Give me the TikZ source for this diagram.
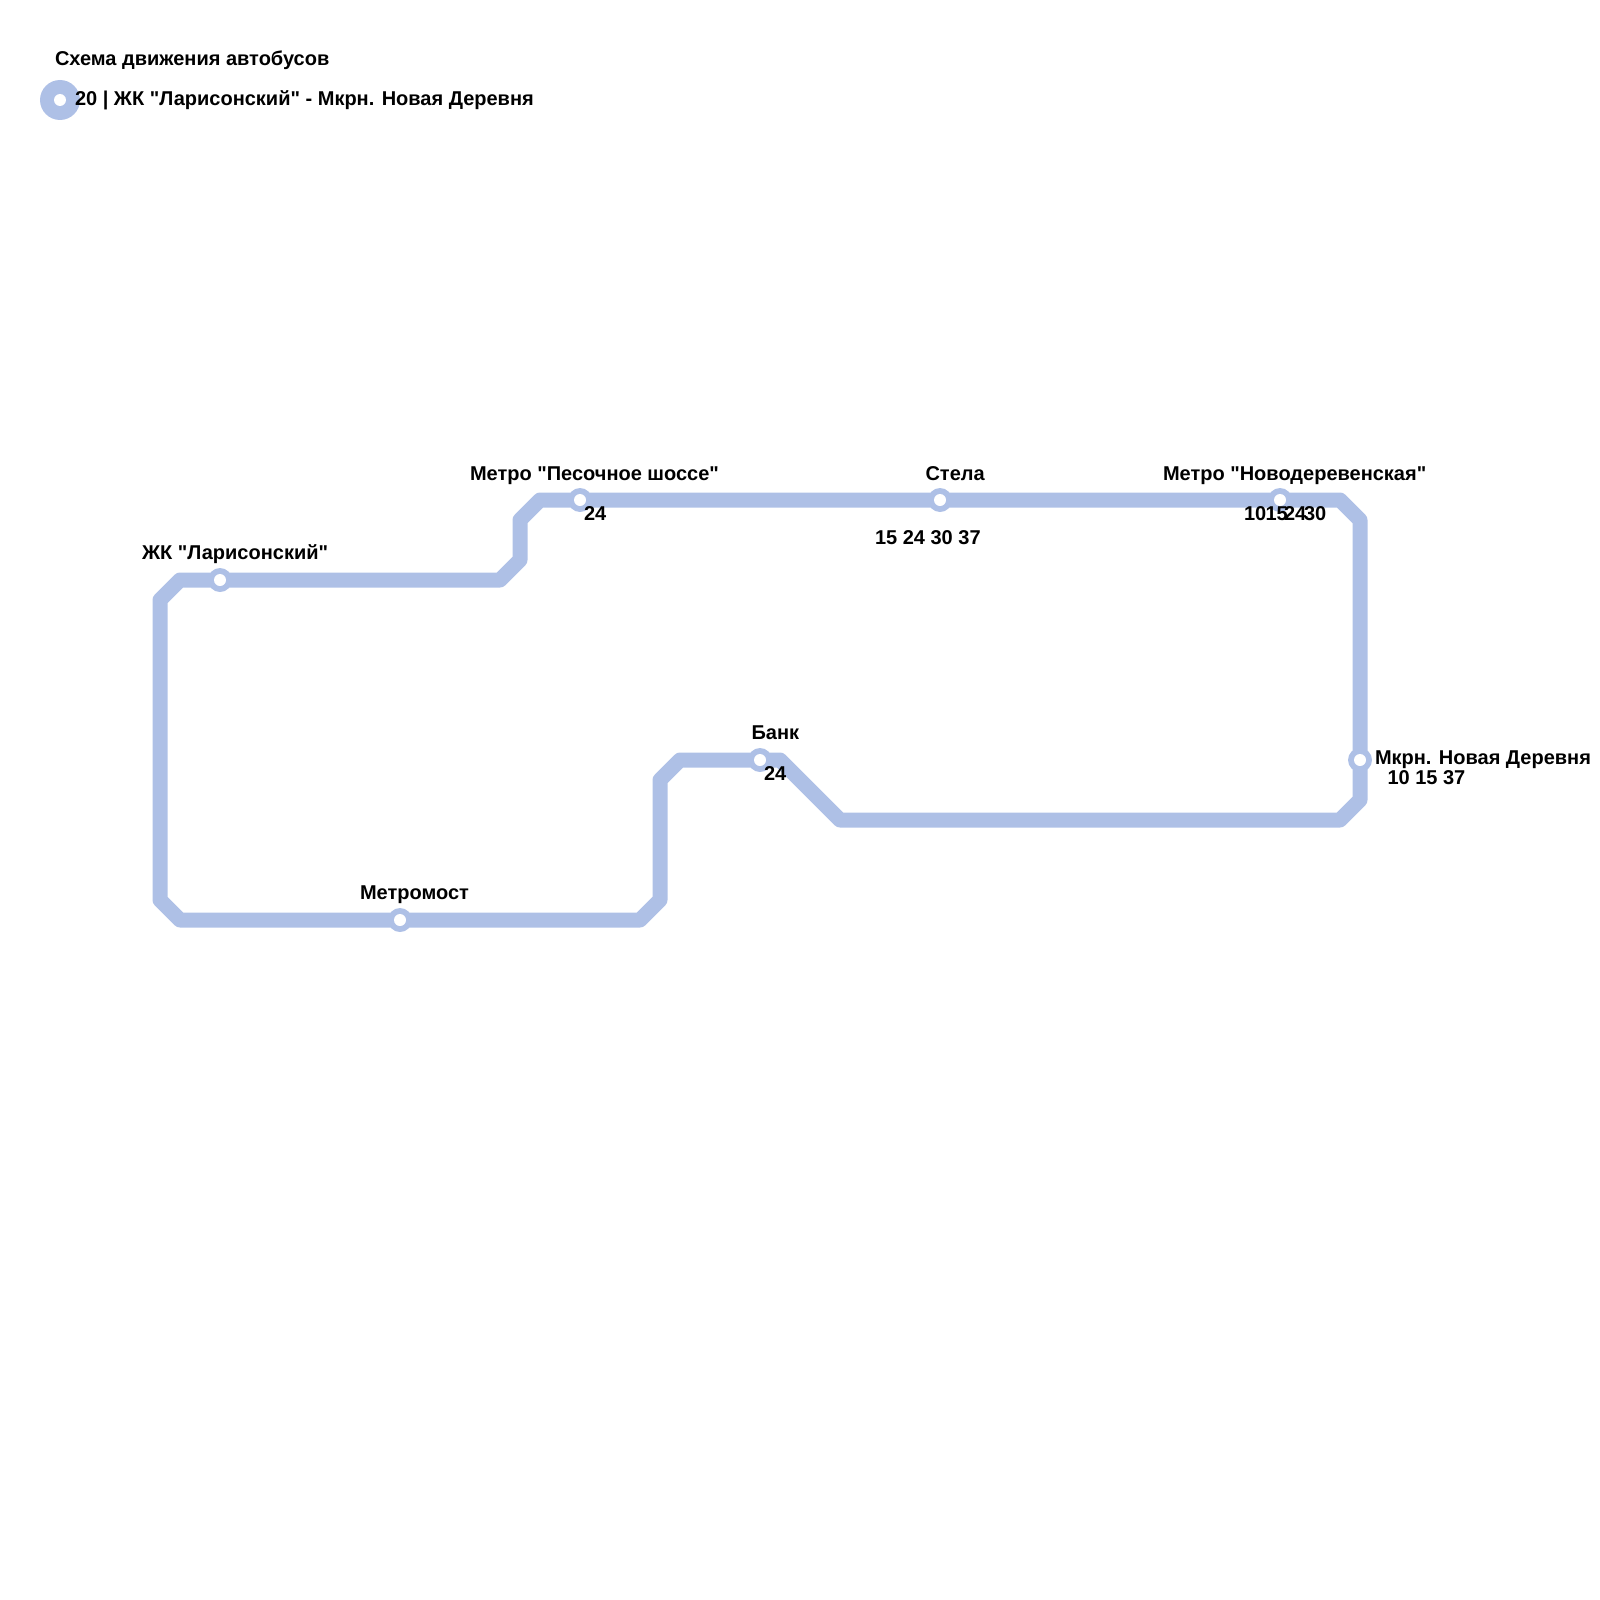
\documentclass[tikz,border=0pt]{standalone}
\usepackage{fontspec}
\setmainfont[Ligatures=TeXOff]{Liberation Sans}
\definecolor{routeblue}{HTML}{AEC0E6}
\tikzset{
  x=1pt,y=-1pt,
  route/.style={draw=routeblue,line width=15pt,line join=round},
  stnpad/.style={circle,fill=routeblue,minimum size=24pt,inner sep=0pt,outer sep=0pt},
  stnhole/.style={circle,fill=white,minimum size=12pt,inner sep=0pt,outer sep=0pt},
  lbl/.style={anchor=base west,inner sep=0pt,outer sep=0pt,font=\bfseries\fontsize{20}{22}\selectfont,text=black},
}
\begin{document}
\begin{tikzpicture}
\useasboundingbox (0,0) rectangle (1600,1600);
% bends
\coordinate (b1) at (180,580);
\coordinate (b2) at (160,600);
\coordinate (b3) at (160,900);
\coordinate (b4) at (180,920);
\coordinate (b5) at (640,920);
\coordinate (b6) at (660,900);
\coordinate (b7) at (660,780);
\coordinate (b8) at (680,760);
\coordinate (b9) at (780,760);
\coordinate (b10) at (840,820);
\coordinate (b11) at (1340,820);
\coordinate (b12) at (1360,800);
\coordinate (b13) at (1360,520);
\coordinate (b14) at (1340,500);
\coordinate (b15) at (540,500);
\coordinate (b16) at (520,520);
\coordinate (b17) at (520,560);
\coordinate (b18) at (500,580);
% stations positions
\coordinate (sZk) at (220,580);
\coordinate (sMost) at (400,920);
\coordinate (sBank) at (760,760);
\coordinate (sMkrn) at (1360,760);
\coordinate (sNovo) at (1280,500);
\coordinate (sStela) at (940,500);
\coordinate (sPes) at (580,500);
\coordinate (sLeg) at (60,100);
% route
\draw[route] (sZk) -- (b1) -- (b2) -- (b3) -- (b4) -- (sMost) -- (b5) -- (b6) -- (b7) -- (b8) -- (sBank) -- (b9) -- (b10) -- (b11) -- (b12) -- (sMkrn) -- (b13) -- (b14) -- (sNovo) -- (sStela) -- (sPes) -- (b15) -- (b16) -- (b17) -- (b18) -- (sZk);
% legend and station pads
\node[circle,fill=routeblue,minimum size=40pt,inner sep=0pt] (legOuter) at (sLeg) {};
\foreach \s in {sZk,sMost,sBank,sMkrn,sNovo,sStela,sPes}{\node[stnpad] (pad\s) at (\s) {};}
% labels
\node[lbl] (tTitle) at (55,65.8) {Схема движения автобусов};
\node[lbl] (tLeg) at (75,105.8) {20 | ЖК "Ларисонский" - Мкрн. Новая Деревня};
\node[lbl] (tZk) at (142,559) {ЖК "Ларисонский"};
\node[lbl] (tPes) at (470,480) {Метро "Песочное шоссе"};
\node[lbl] (tStela) at (925.5,480) {Стела};
\node[lbl] (tNovo) at (1163,480) {Метро "Новодеревенская"};
\node[lbl] (tBank) at (751.5,739.8) {Банк};
\node[lbl] (tMost) at (360,899.8) {Метромост};
\node[lbl] (tMkrn) at (1375,764) {Мкрн. Новая Деревня};
\node[lbl] (tMkrnN) at (1387.5,784) {10 15 37};
\node[lbl] (tPesN) at (584,520) {24};
\node[lbl] (tBankN) at (764,780) {24};
\node[lbl] (tStelaN) at (875,544) {15 24 30 37};
\node[lbl] (tN1) at (1244,520) {10};
\node[lbl] (tN2) at (1265.5,520) {15};
\node[lbl] (tN3) at (1284,520) {24};
\node[lbl] (tN4) at (1304,520) {30};
% holes
\node[stnhole] (legHole) at (sLeg) {};
\foreach \s in {sZk,sMost,sBank,sMkrn,sNovo,sStela,sPes}{\node[stnhole] (hole\s) at (\s) {};}
\end{tikzpicture}
\end{document}
